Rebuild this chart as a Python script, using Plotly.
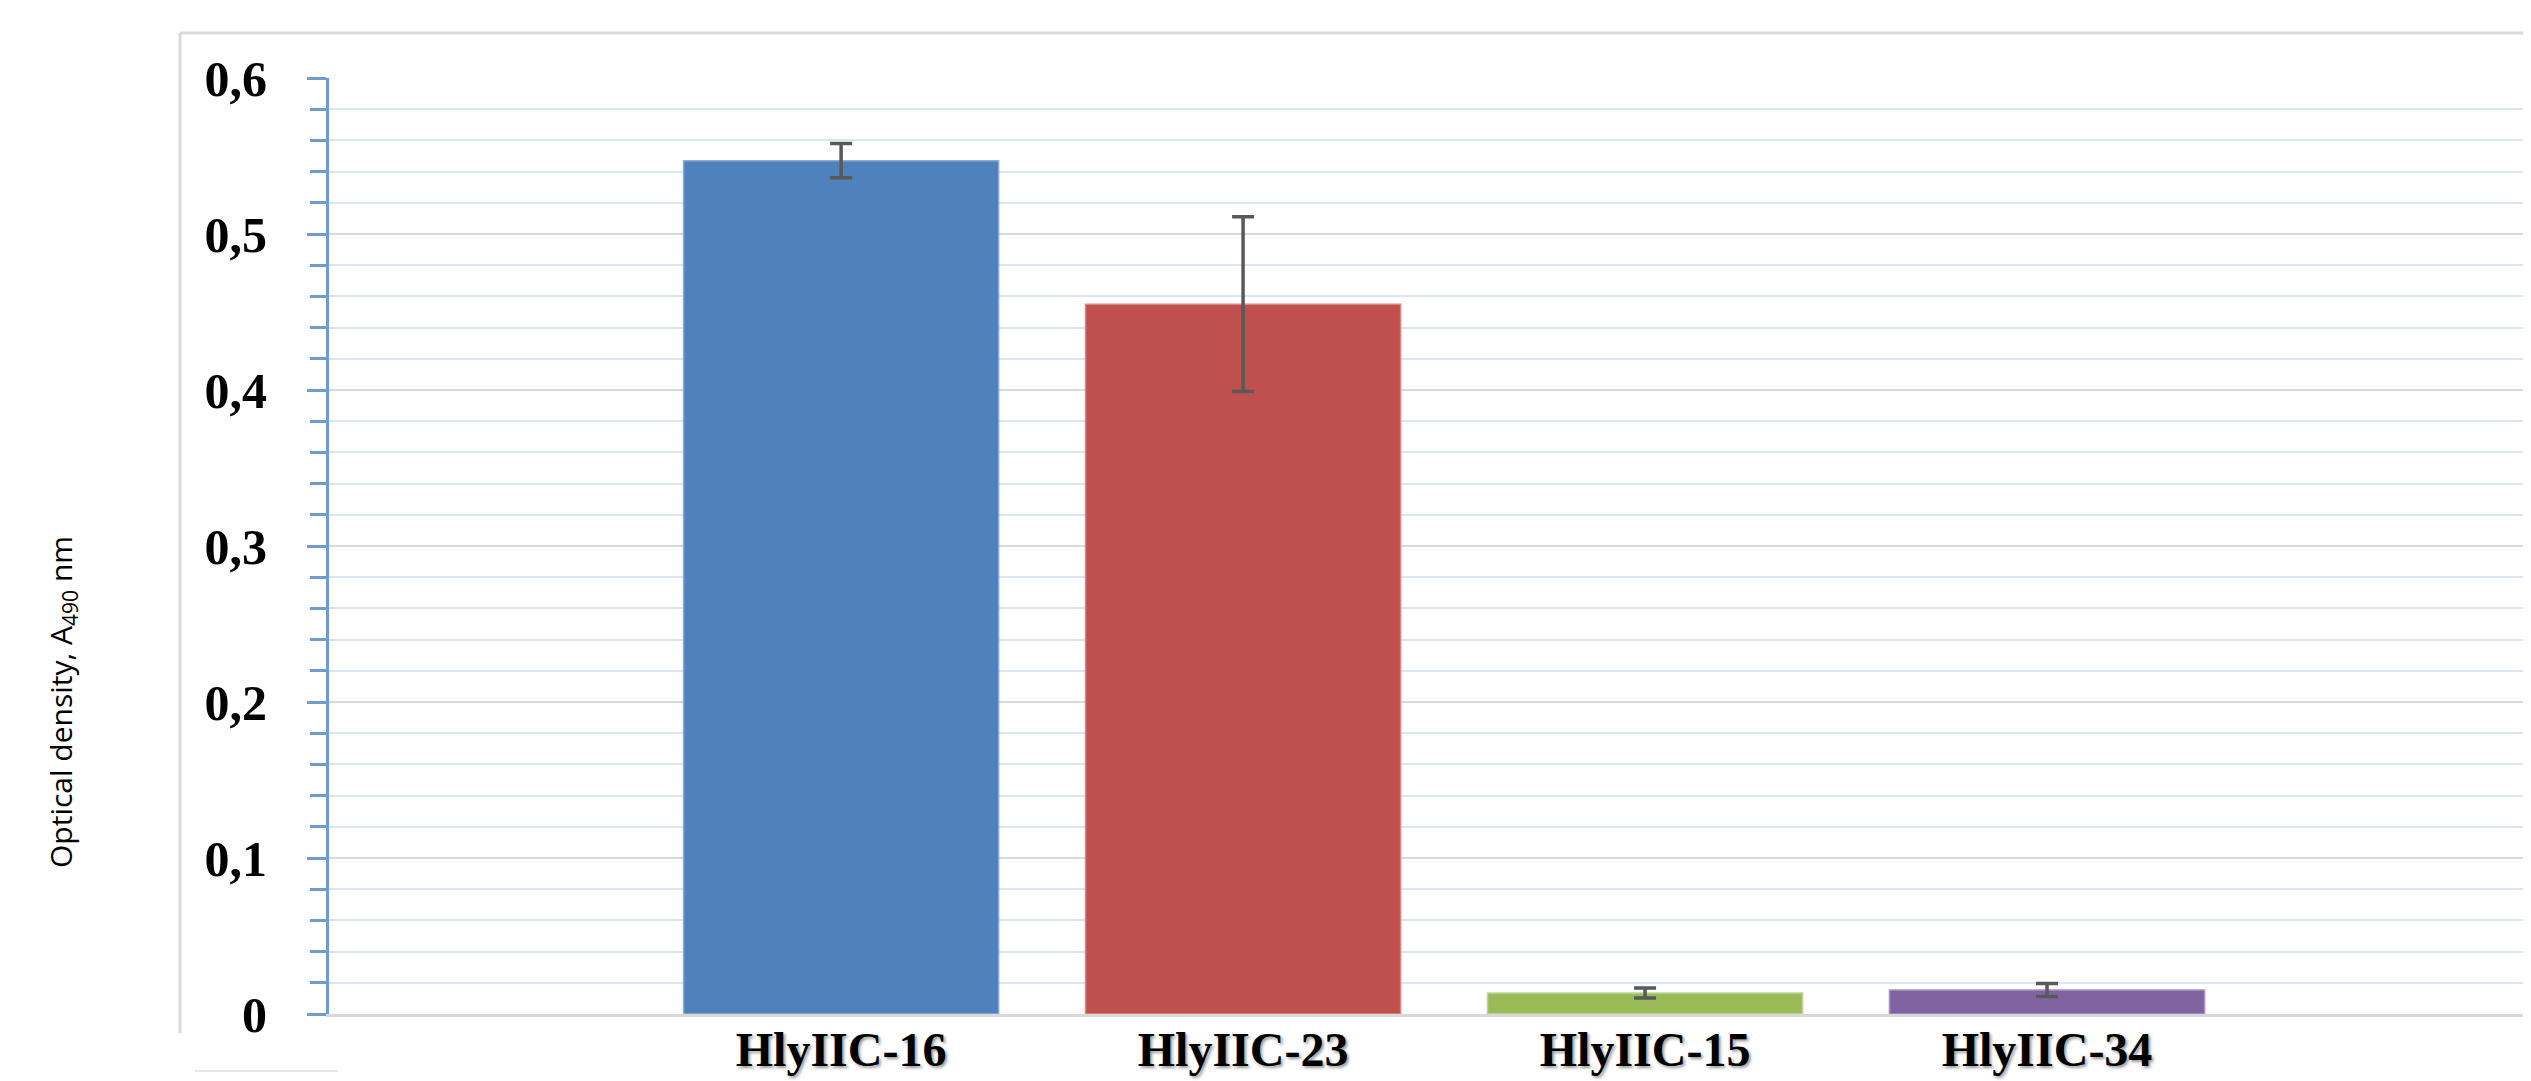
import plotly.graph_objects as go

categories = ["HlyIIC-16", "HlyIIC-23", "HlyIIC-15", "HlyIIC-34"]
values = [0.547, 0.455, 0.0135, 0.0154]
errors = [0.011, 0.056, 0.0032, 0.0042]
colors = ["#4F81BD", "#C0504D", "#9BBB59", "#8064A2"]
edge_colors = ["#8EADD6", "#D98A88", "#C0D69A", "#A993C4"]
y_ticks = [0, 0.1, 0.2, 0.3, 0.4, 0.5, 0.6]
y_tick_labels = ["0", "0,1", "0,2", "0,3", "0,4", "0,5", "0,6"]

# page body has an 8px default margin: work in figure coordinates
OFF = 8
W, H = 2531 - OFF, 1081 - OFF
L, R, T, B = 329 - OFF, 0, 78 - OFF, 1081 - 1014
PW, PH = W - L - R, H - T - B


def px_x(x):
    return (x - OFF - L) / PW


def px_y(y):
    return (H - B - (y - OFF)) / PH


fig = go.Figure()
fig.add_trace(go.Bar(
    x=categories,
    y=values,
    width=0.784,
    marker=dict(color=colors, line=dict(color=edge_colors, width=1.5)),
    error_y=dict(type="data", array=errors, visible=True,
                 color="#595959", thickness=3.5, width=11),
    showlegend=False,
))

fig.update_layout(
    width=W, height=H,
    margin=dict(l=L, r=R, t=T, b=B, pad=0, autoexpand=False),
    paper_bgcolor="white",
    plot_bgcolor="white",
    xaxis=dict(
        type="category",
        range=[-1.274, 4.204],
        automargin=False,
        showgrid=False,
        showline=True, linecolor="#D9D9D9", linewidth=2.5,
        ticks="",
        tickfont=dict(family="Liberation Serif", size=48, color="black",
                      weight="bold", shadow="2px 2px 3px #9a9a9a"),
        ticklabelstandoff=-8,
        zeroline=False,
        fixedrange=True,
    ),
    yaxis=dict(
        range=[0, 0.6],
        automargin=False,
        tickvals=y_ticks,
        ticktext=y_tick_labels,
        showgrid=True, gridcolor="#D9D9D9", gridwidth=2,
        showline=True, linecolor="#6F9BD1", linewidth=3,
        ticks="outside", ticklen=19, tickwidth=2.5, tickcolor="#6F9BD1",
        minor=dict(dtick=0.02, ticks="outside", ticklen=16, tickwidth=2.5,
                   tickcolor="#6F9BD1", showgrid=True,
                   gridcolor="#DCE6F2", gridwidth=2),
        tickfont=dict(family="Liberation Serif", size=50, color="black",
                      weight="bold"),
        ticklabelstandoff=30,
        zeroline=False,
        fixedrange=True,
    ),
    bargap=0.2,
)

# outer chart border (light gray frame)
fig.add_shape(type="line", xref="paper", yref="paper",
              x0=px_x(180), x1=1.0, y0=px_y(33), y1=px_y(33),
              line=dict(color="#D9D9D9", width=3))
fig.add_shape(type="line", xref="paper", yref="paper",
              x0=px_x(180), x1=px_x(180), y0=px_y(33), y1=px_y(1033),
              line=dict(color="#D9D9D9", width=3))
fig.add_shape(type="line", xref="paper", yref="paper",
              x0=px_x(195), x1=px_x(338), y0=px_y(1071), y1=px_y(1071),
              line=dict(color="#E6E6E6", width=2))

fig.add_annotation(
    text="Optical density, A<sub>490</sub> nm",
    xref="paper", yref="paper",
    x=px_x(62), y=px_y(702),
    textangle=-90, showarrow=False,
    xanchor="center", yanchor="middle",
    font=dict(family="Open Sans", size=30, color="black"),
)

fig.write_html("out.html")
